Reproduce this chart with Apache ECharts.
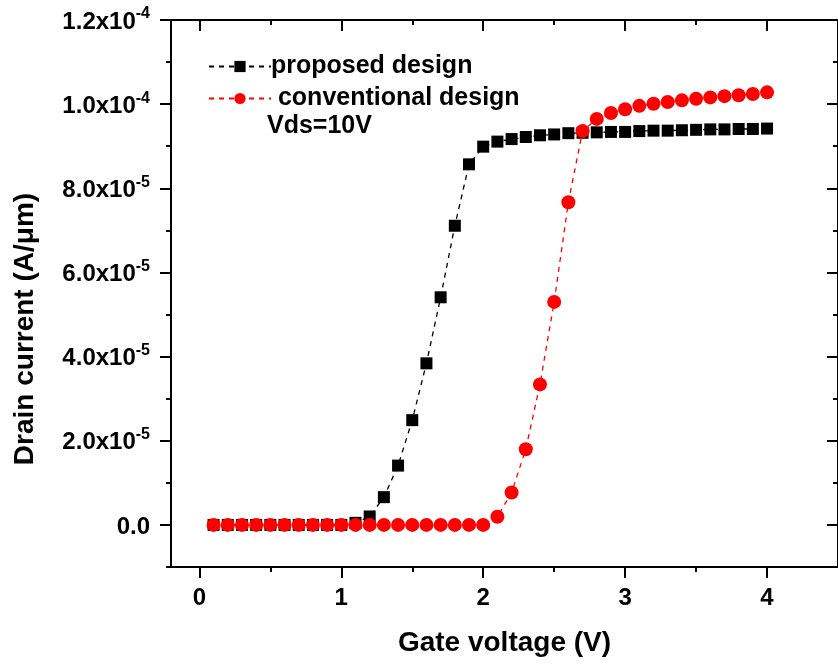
<!DOCTYPE html>
<html>
<head>
<meta charset="utf-8">
<script src="https://cdn.jsdelivr.net/npm/echarts@6/dist/echarts.min.js"></script>
<style>
html,body{margin:0;padding:0;background:#fff;}
#chart{width:838px;height:667px;}
</style>
</head>
<body>
<div id="chart"></div>
<script>
// ---- data ----
const gateVoltage = [0.1,0.2,0.3,0.4,0.5,0.6,0.7,0.8,0.9,1.0,
  1.1,1.2,1.3,1.4,1.5,1.6,1.7,1.8,1.9,2.0,
  2.1,2.2,2.3,2.4,2.5,2.6,2.7,2.8,2.9,3.0,
  3.1,3.2,3.3,3.4,3.5,3.6,3.7,3.8,3.9,4.0];
const proposedDesign = [0,0,0,0,0,0,0,0,0,0,
  0.05e-5,0.2e-5,0.66e-5,1.41e-5,2.49e-5,3.84e-5,5.41e-5,7.11e-5,8.57e-5,8.99e-5,
  9.11e-5,9.17e-5,9.22e-5,9.26e-5,9.28e-5,9.31e-5,9.32e-5,9.33e-5,9.34e-5,9.34e-5,
  9.36e-5,9.37e-5,9.37e-5,9.38e-5,9.39e-5,9.40e-5,9.40e-5,9.41e-5,9.41e-5,9.42e-5];
const conventionalDesign = [0,0,0,0,0,0,0,0,0,0,
  0,0,0,0,0,0,0,0,0,0,
  0.195e-5,0.77e-5,1.80e-5,3.34e-5,5.30e-5,7.67e-5,9.36e-5,9.65e-5,9.79e-5,9.88e-5,
  9.96e-5,10.01e-5,10.05e-5,10.09e-5,10.13e-5,10.16e-5,10.19e-5,10.21e-5,10.24e-5,10.28e-5];
const seriesNames = ['proposed design', ' conventional design'];
const annotation = 'Vds=10V';
const xTitle = 'Gate voltage (V)';
const yTitle = 'Drain current (A/\u03bcm)';
const xMajorTicks = [0,1,2,3,4];
const xMinorTicks = [0.5,1.5,2.5,3.5];
const yMajorTicks = [0,2e-5,4e-5,6e-5,8e-5,1e-4,1.2e-4];
const yMinorTicks = [-1e-5,1e-5,3e-5,5e-5,7e-5,9e-5,1.1e-4];
const yTickMantissa = ['0.0','2.0','4.0','6.0','8.0','1.0','1.2'];
const yTickExponent = ['','-5','-5','-5','-5','-4','-4'];

const FONT = '"Liberation Sans", Arial, sans-serif';
const X_MIN = -0.2, X_MAX = 4.5, Y_MIN = -1e-5, Y_MAX = 1.2e-4;

function yLabel(v){
  let idx = 0, best = Infinity;
  yMajorTicks.forEach((t,i)=>{ const d = Math.abs(t-v); if(d<best){best=d;idx=i;} });
  if (!yTickExponent[idx]) return '{m|' + yTickMantissa[idx] + '}';
  return '{m|' + yTickMantissa[idx] + 'x10}{e|' + yTickExponent[idx] + '}';
}

const axisLine = {show:true, onZero:false, lineStyle:{color:'#000', width:2}};
function xAxisDef(pos, ticks, len, inside, labels, extra){
  return Object.assign({
    type:'value', position:pos, min:X_MIN, max:X_MAX, splitLine:{show:false},
    axisLine: axisLine,
    axisTick:{show:true, customValues:ticks, length:len, inside:inside, lineStyle:{color:'#000', width:2}},
    axisLabel: labels ? {show:true, customValues:ticks, margin:19, fontSize:24, fontWeight:'bold', color:'#000', fontFamily:FONT}
                      : {show:false}
  }, extra||{});
}
function yAxisDef(pos, ticks, len, inside, labels){
  return {
    type:'value', position:pos, min:Y_MIN, max:Y_MAX, splitLine:{show:false},
    axisLine: axisLine,
    axisTick:{show:true, customValues:ticks, length:len, inside:inside, lineStyle:{color:'#000', width:2}},
    axisLabel: labels ? {show:true, customValues:ticks, margin:21, formatter:yLabel, color:'#000',
      rich:{
        m:{fontSize:24, fontWeight:'bold', fontFamily:FONT, color:'#000', lineHeight:28, verticalAlign:'bottom'},
        e:{fontSize:16, fontWeight:'bold', fontFamily:FONT, color:'#000', lineHeight:12, verticalAlign:'top'}
      }} : {show:false}
  };
}

const chart = echarts.init(document.getElementById('chart'), null, {renderer:'canvas'});
chart.setOption({
  backgroundColor:'#fff',
  animation:false,
  grid:{left:171, top:20, width:675, height:547, containLabel:false},
  xAxis:[
    xAxisDef('bottom', xMajorTicks, 11, false, true, {
      name:xTitle, nameLocation:'middle', nameGap:62,
      nameTextStyle:{fontSize:28, fontWeight:'bold', color:'#000', fontFamily:FONT}
    }),
    xAxisDef('bottom', xMinorTicks, 5, false, false),
    xAxisDef('top', xMajorTicks, 11, true, false),
    xAxisDef('top', xMinorTicks, 5, true, false)
  ],
  yAxis:[
    yAxisDef('left', yMajorTicks, 11, false, true),
    yAxisDef('left', yMinorTicks, 5, false, false),
    yAxisDef('right', yMajorTicks, 11, true, false),
    yAxisDef('right', yMinorTicks, 5, true, false)
  ],
  legend:{
    orient:'vertical', left:203, top:49, itemWidth:62, itemHeight:14, itemGap:7,
    data:seriesNames,
    textStyle:{fontSize:25, fontWeight:'bold', color:'#000', fontFamily:FONT, padding:[0,0,0,-5]}
  },
  graphic:[
    {type:'text', left:267, top:114, style:{text:annotation, font:'bold 25px ' + FONT, fill:'#000'}},
    {type:'text', x:25, y:329, rotation:Math.PI/2,
     style:{text:yTitle, font:'bold 28px ' + FONT, fill:'#000', align:'center', verticalAlign:'middle'}}
  ],
  series:[
    {
      name:seriesNames[0], type:'line', xAxisIndex:0, yAxisIndex:0,
      data:gateVoltage.map((x,i)=>[x, proposedDesign[i]]),
      symbol:'rect', symbolSize:12,
      itemStyle:{color:'#000'},
      lineStyle:{color:'#000', width:1.3, type:[5,5]},
      z:2
    },
    {
      name:seriesNames[1], type:'line', xAxisIndex:0, yAxisIndex:0,
      data:gateVoltage.map((x,i)=>[x, conventionalDesign[i]]),
      symbol:'circle', symbolSize:14,
      itemStyle:{color:'#ff0000'},
      lineStyle:{color:'#ff0000', width:1.3, type:[5,5]},
      z:3
    }
  ]
});
</script>
</body>
</html>
